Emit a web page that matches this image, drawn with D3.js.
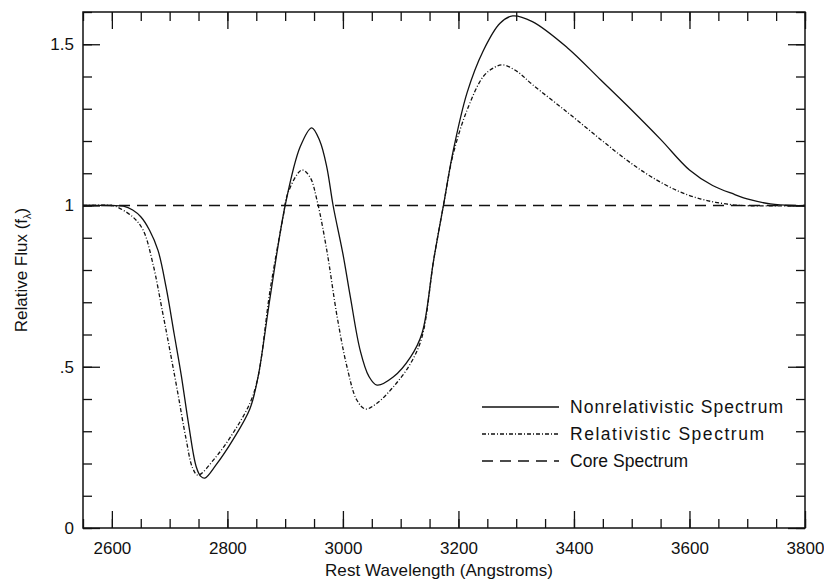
<!DOCTYPE html>
<html lang="en">
<head>
  <meta charset="UTF-8">
  <title>Relative Flux</title>
  <style>
    body { margin: 0; background: #fff; }
    text { font-family: "Liberation Sans", Arial, Helvetica, sans-serif; fill: #111; }
  </style>
</head>
<body>
<div id="output"></div>
<script src="https://d3js.org/d3.v7.min.js"></script>
<script type="text/javascript">
  // wavelength (Angstroms) / relative flux pairs
  const nonrelWave = [2550, 2600, 2620, 2636, 2650, 2665, 2680, 2694, 2708, 2720, 2733, 2746, 2754, 2761, 2780, 2810, 2839, 2853,
    2874, 2900, 2926, 2946, 2960, 2972, 2983, 3000, 3013, 3030, 3045, 3059, 3087, 3117, 3137, 3157, 3174, 3191, 3215, 3243,
    3272, 3294, 3328, 3388, 3446, 3492, 3550, 3600, 3640, 3677, 3705, 3740, 3780, 3800];
  const nonrelFlux = [1.0, 1.0, 0.998, 0.986, 0.965, 0.924, 0.86, 0.745, 0.6, 0.475, 0.32, 0.19, 0.16, 0.155, 0.195, 0.275, 0.37, 0.468,
    0.716, 1.0, 1.182, 1.241, 1.2, 1.12, 1.0, 0.85, 0.715, 0.55, 0.47, 0.443, 0.468, 0.53, 0.604, 0.83, 1.0, 1.17, 1.35, 1.48,
    1.565, 1.588, 1.57, 1.49, 1.39, 1.31, 1.205, 1.11, 1.062, 1.035, 1.018, 1.005, 1.0, 1.0];

  const relWave = [2550, 2600, 2607, 2636, 2654, 2671, 2688, 2700, 2714, 2728, 2740, 2749, 2780, 2810, 2839, 2853, 2874,
    2896, 2905, 2929, 2943, 2955, 2972, 2990, 3007, 3024, 3039, 3059, 3087, 3117, 3137, 3157, 3174, 3191, 3215, 3243,
    3262, 3277, 3302, 3328, 3388, 3446, 3492, 3533, 3580, 3620, 3655, 3690, 3800];
  const relFlux = [1.0, 1.0, 0.997, 0.965, 0.924, 0.82, 0.667, 0.555, 0.42, 0.28, 0.185, 0.164, 0.22, 0.295, 0.387, 0.468, 0.738,
    0.96, 1.04, 1.11, 1.088, 1.017, 0.862, 0.655, 0.5, 0.397, 0.369, 0.387, 0.437, 0.51, 0.593, 0.83, 1.0, 1.16, 1.296, 1.4,
    1.428, 1.436, 1.415, 1.375, 1.29, 1.205, 1.14, 1.09, 1.045, 1.02, 1.007, 1.0, 1.0];

  const coreWave = [2550, 3800];
  const coreFlux = [1.0, 1.0];

  const xMajor = [2600, 2800, 3000, 3200, 3400, 3600, 3800];
  const xMinor = d3.range(2550, 3801, 50);
  const yMajor = [0, 0.5, 1, 1.5];
  const yMinor = d3.range(0, 1.61, 0.1);
  const yLabels = ["0", ".5", "1", "1.5"];

  const seriesNames = ["Nonrelativistic Spectrum", "Relativistic Spectrum", "Core Spectrum"];
  const seriesDash = [null, "4,2,1,2", "11,7"];
  const legendWidths = [213, 194, 118];

  const W = 824, H = 581;
  const mLeft = 83, mRight = 805, mTop = 12, mBottom = 528;

  const svg = d3.select("#output").append("svg")
    .attr("width", W).attr("height", H);

  const x = d3.scaleLinear().domain([2550, 3800]).range([mLeft, mRight]);
  const y = d3.scaleLinear().domain([0, 1.6]).range([mBottom, mTop]);

  // ticks: all point inward
  function addAxis(axis, tx, ty) {
    const g = svg.append("g").attr("transform", `translate(${tx},${ty})`).call(axis);
    g.select(".domain").remove();
    g.attr("font-family", null).attr("font-size", null);
    g.selectAll("line").attr("stroke", "#111").attr("stroke-width", 1.3);
    return g;
  }

  const bx = addAxis(d3.axisBottom(x).tickValues(xMajor).tickSize(-17).tickPadding(14)
    .tickFormat(d3.format("d")), 0, mBottom);
  addAxis(d3.axisBottom(x).tickValues(xMinor).tickSize(-9).tickFormat(""), 0, mBottom);
  addAxis(d3.axisTop(x).tickValues(xMajor).tickSize(-17).tickFormat(""), 0, mTop);
  addAxis(d3.axisTop(x).tickValues(xMinor).tickSize(-9).tickFormat(""), 0, mTop);

  const ly = addAxis(d3.axisLeft(y).tickValues(yMajor).tickSize(-17).tickPadding(9)
    .tickFormat((d, i) => yLabels[i]), mLeft, 0);
  addAxis(d3.axisLeft(y).tickValues(yMinor).tickSize(-9).tickFormat(""), mLeft, 0);
  addAxis(d3.axisRight(y).tickValues(yMajor).tickSize(-17).tickFormat(""), mRight, 0);
  addAxis(d3.axisRight(y).tickValues(yMinor).tickSize(-9).tickFormat(""), mRight, 0);

  bx.selectAll("text").style("font-size", "17px").attr("fill", null);
  ly.selectAll("text").style("font-size", "17px").attr("fill", null);

  // frame
  svg.append("rect")
    .attr("x", mLeft).attr("y", mTop)
    .attr("width", mRight - mLeft).attr("height", mBottom - mTop)
    .attr("fill", "none").attr("stroke", "#111").attr("stroke-width", 1.5);

  const line = d3.line()
    .x(d => x(d[0])).y(d => y(d[1]))
    .curve(d3.curveCatmullRom.alpha(0.5));

  const series = [
    d3.zip(nonrelWave, nonrelFlux),
    d3.zip(relWave, relFlux),
    d3.zip(coreWave, coreFlux)
  ];

  series.forEach((s, i) => {
    svg.append("path")
      .datum(s)
      .attr("d", line)
      .attr("fill", "none")
      .attr("stroke", "#111")
      .attr("stroke-width", 1.3)
      .attr("stroke-dasharray", seriesDash[i]);
  });

  // legend
  const legend = svg.append("g").attr("transform", "translate(482,407)");
  seriesNames.forEach((name, i) => {
    const gy = i * 27;
    legend.append("line")
      .attr("x1", 0).attr("x2", 77).attr("y1", gy).attr("y2", gy)
      .attr("stroke", "#111").attr("stroke-width", 1.3)
      .attr("stroke-dasharray", seriesDash[i]);
    legend.append("text")
      .attr("x", 88).attr("y", gy + 6)
      .attr("textLength", legendWidths[i])
      .attr("lengthAdjust", "spacing")
      .style("font-size", "17.5px")
      .text(name);
  });

  // axis titles
  svg.append("text")
    .attr("x", 439).attr("y", 576)
    .attr("text-anchor", "middle")
    .attr("textLength", 228)
    .attr("lengthAdjust", "spacing")
    .style("font-size", "17px")
    .text("Rest Wavelength (Angstroms)");

  const yt = svg.append("text")
    .attr("transform", `translate(27,${(mTop + mBottom) / 2}) rotate(-90)`)
    .attr("text-anchor", "middle")
    .style("font-size", "17px");
  yt.append("tspan").text("Relative Flux (f");
  yt.append("tspan").attr("dy", 4).style("font-size", "11px").text("λ");
  yt.append("tspan").attr("dy", -4).text(")");
</script>
</body>
</html>
